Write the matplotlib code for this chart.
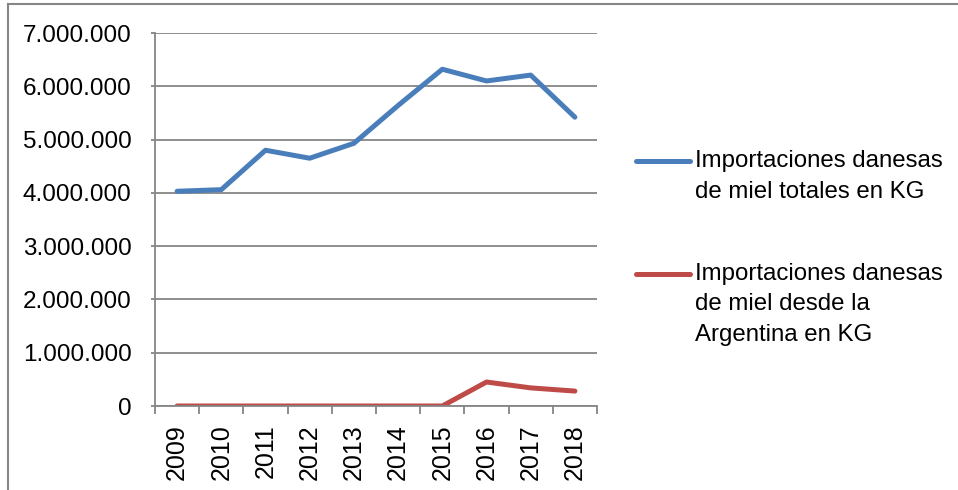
import matplotlib
matplotlib.use('Agg')
import matplotlib.pyplot as plt
from matplotlib.lines import Line2D
from matplotlib.ticker import FuncFormatter

plt.rcParams['font.family'] = ['Liberation Sans', 'DejaVu Sans']

anios = ['2009', '2010', '2011', '2012', '2013', '2014', '2015', '2016', '2017', '2018']
totales = [4030000, 4060000, 4800000, 4650000, 4930000, 5640000, 6320000, 6100000, 6210000, 5420000]
argentina = [0, 0, 0, 0, 0, 0, 0, 450000, 340000, 280000]
etiquetas = ['Importaciones danesas\nde miel totales en KG',
             'Importaciones danesas\nde miel desde la\nArgentina en KG']
colores = ['#4A7EBB', '#BE4B48']

W, H = 958, 490
fig = plt.figure(figsize=(W / 100, H / 100), dpi=100)
ax = fig.add_axes([155 / W, 1 - 406 / H, (597 - 155) / W, (406 - 33) / H])

x = list(range(len(anios)))
ax.plot(x, totales, color=colores[0], lw=3.6, solid_capstyle='round', solid_joinstyle='round')
ax.plot(x, argentina, color=colores[1], lw=3.6, solid_capstyle='round', solid_joinstyle='round')

gris = '#868686'
ax.set_xlim(-0.5, len(anios) - 0.5)
ax.set_ylim(0, 7000000)
ax.set_yticks(range(0, 7000001, 1000000))
ax.yaxis.set_major_formatter(FuncFormatter(lambda v, p: f'{int(v):,}'.replace(',', '.')))
ax.grid(axis='y', color=gris, lw=1.3)
ax.set_axisbelow(True)

ax.set_xticks(x)
ax.set_xticklabels(anios, rotation=90)
ax.set_xticks([i - 0.5 for i in range(len(anios) + 1)], minor=True)
ax.tick_params(axis='x', which='major', length=0, pad=13, labelsize=18)
ax.tick_params(axis='x', which='minor', length=6, color=gris, width=1.3, direction='out')
ax.tick_params(axis='y', length=3, color=gris, width=1.3, labelsize=17.5, pad=14)

for s in ['top', 'right']:
    ax.spines[s].set_visible(False)
for s in ['left', 'bottom']:
    ax.spines[s].set_color(gris)
    ax.spines[s].set_linewidth(1.3)

# leyenda a mano, la linea alineada con la primera linea del texto
for col, lab, yl, yt in zip(colores, etiquetas, [161, 274], [150, 263]):
    fig.add_artist(Line2D([636 / W, 690 / W], [1 - yl / H, 1 - yl / H], color=col, lw=3.6,
                          solid_capstyle='round', transform=fig.transFigure))
    fig.text(695 / W, 1 - yt / H, lab, fontsize=17.3, va='top', ha='left', linespacing=1.5)

# marco exterior (solo se ve arriba e izquierda)
fig.add_artist(Line2D([8 / W, 8 / W], [0, 1 - 4 / H], color=gris, lw=1.5, transform=fig.transFigure))
fig.add_artist(Line2D([8 / W, 1], [1 - 4 / H, 1 - 4 / H], color=gris, lw=1.5, transform=fig.transFigure))

fig.savefig('out.png', dpi=100)
